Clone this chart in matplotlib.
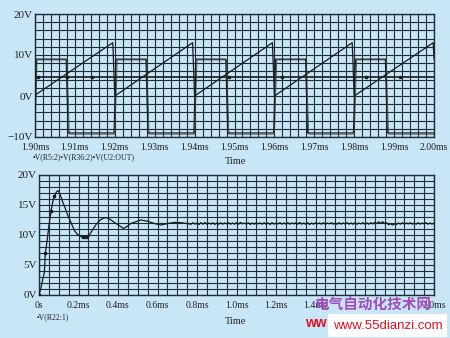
import numpy as np
import matplotlib
matplotlib.use("Agg")
import matplotlib.pyplot as plt
from matplotlib.patches import Rectangle

# ---- top panel data (ms, V) ----
saw_t = [1.9000, 1.9195, 1.9200, 1.9395, 1.9400, 1.9595, 1.9600, 1.9795, 1.9800, 1.9998, 2.0000]
saw_v = [0.2, 13.0, 0.0, 13.0, 0.0, 13.0, 0.0, 13.0, 0.0, 13.0, 9.0]

out_t = [1.9000, 1.9003, 1.9078, 1.9083, 1.9198, 1.9203, 1.9278, 1.9283, 1.9398, 1.9403,
         1.9478, 1.9483, 1.9598, 1.9603, 1.9678, 1.9683, 1.9798, 1.9803, 1.9878, 1.9883, 2.0000]
out_v = [-9.0, 9.0, 9.0, -9.0, -9.0, 9.0, 9.0, -9.0, -9.0, 9.0,
         9.0, -9.0, -9.0, 9.0, 9.0, -9.0, -9.0, 9.0, 9.0, -9.0, -9.0]

r36_t = [1.9000, 1.9005, 1.9080, 1.9086, 1.9200, 1.9206, 1.9280, 1.9286, 1.9400, 1.9406,
         1.9480, 1.9486, 1.9600, 1.9606, 1.9680, 1.9686, 1.9800, 1.9806, 1.9880, 1.9886, 2.0000]
r36_v = [-9.3, 8.8, 8.8, -9.3, -9.3, 8.8, 8.8, -9.3, -9.3, 8.8,
         8.8, -9.3, -9.3, 8.8, 8.8, -9.3, -9.3, 8.8, 8.8, -9.3, -9.3]

r5_t = [1.900, 2.000]
r5_v = [4.6, 4.6]
r5_mark_t = [1.9007, 1.9080, 1.9142, 1.9485, 1.9620, 1.9830, 1.9915]

top_xticks = [1.90, 1.91, 1.92, 1.93, 1.94, 1.95, 1.96, 1.97, 1.98, 1.99, 2.00]
top_xlabels = ["1.90ms", "1.91ms", "1.92ms", "1.93ms", "1.94ms", "1.95ms",
               "1.96ms", "1.97ms", "1.98ms", "1.99ms", "2.00ms"]
top_yticks = [-10, 0, 10, 20]
top_ylabels = ["\u221210V", "0V", "10V", "20V"]

# ---- bottom panel data (ms, V) ----
r22_t = [0.000, 0.010, 0.020, 0.027, 0.032, 0.040, 0.050, 0.061, 0.070, 0.078, 0.087, 0.095,
         0.103, 0.112, 0.120, 0.129, 0.142, 0.155, 0.168, 0.180, 0.195, 0.214, 0.225,
         0.240, 0.250, 0.257, 0.270, 0.290, 0.310, 0.325, 0.342, 0.360, 0.384, 0.405,
         0.427, 0.445, 0.464, 0.490, 0.515, 0.550, 0.585, 0.617, 0.650, 0.685, 0.720, 0.750, 0.770]
r22_v = [0.0, 1.2, 2.8, 3.7, 7.0, 8.8, 11.5, 14.0, 15.6, 16.5, 17.1, 17.4,
         17.1, 16.3, 15.5, 14.8, 13.6, 12.6, 11.6, 10.7, 10.1, 9.7, 9.6,
         9.6, 9.5, 10.1, 10.8, 11.8, 12.5, 12.8, 12.9, 12.6, 12.05, 11.6,
         11.1, 11.4, 11.9, 12.2, 12.5, 12.3, 11.9, 11.67, 11.9, 12.1, 12.05, 11.9, 11.8]

# ripple after settling, one value every 0.01 ms from 0.78 ms
ripple_v = [12.05, 11.8, 12.0, 11.75, 12.05, 11.8, 12.1, 11.8, 12.0, 11.8, 12.05, 11.75,
            12.0, 11.8, 12.05, 11.8, 12.0, 11.85, 12.05, 11.8, 12.0, 11.8, 12.05, 11.8,
            12.1, 11.85, 12.0, 11.8, 12.05, 11.75, 12.0, 11.8, 12.05, 11.85, 12.0, 11.8,
            12.05, 11.8, 12.0, 11.75, 12.05, 11.8, 12.0, 11.85, 12.05, 11.8, 12.0, 11.8,
            12.05, 11.8, 12.0, 11.85, 12.05, 11.8, 12.1, 11.8, 12.0, 11.8, 12.05, 11.75,
            12.0, 11.8, 12.05, 11.85, 12.0, 11.8, 12.05, 11.8, 12.0, 11.85, 12.05, 11.8,
            12.0, 11.8, 12.05, 11.8, 12.0, 11.85, 12.05, 11.8, 12.0, 11.8, 12.05, 11.8,
            12.0, 11.85, 12.05, 11.8, 12.0, 11.8, 12.05, 11.85, 12.1, 11.9, 12.2, 11.95,
            12.2, 11.9, 12.05, 11.7, 11.9, 11.65, 11.85, 11.75, 12.0, 11.8, 12.05, 11.8,
            12.0, 11.85, 12.05, 11.8, 12.0, 11.8, 12.05, 11.8, 12.0, 11.85, 12.05, 11.8,
            12.0, 11.8, 12.0]
ripple_t = np.linspace(0.78, 2.0, len(ripple_v))

# 1.6ms and 1.8ms sit under the site watermark in the original
bot_xticks = [0, 0.2, 0.4, 0.6, 0.8, 1.0, 1.2, 1.4, 2.0]
bot_xlabels = ["0s", "0.2ms", "0.4ms", "0.6ms", "0.8ms", "1.0ms", "1.2ms", "1.4ms", "2.0ms"]
bot_yticks = [0, 5, 10, 15, 20]
bot_ylabels = ["0V", "5V", "10V", "15V", "20V"]

bg = "#c9e6f7"
grid_c = "#1c2d3a"
trace_c = "#1a1a1a"
serif = "Liberation Serif"

fig = plt.figure(figsize=(4.5, 3.38), dpi=100)
fig.patch.set_facecolor(bg)


def style_axes(ax, xlim, ylim, xstep, ystep, xticks, xlabels, yticks, ylabels):
    ax.set_facecolor(bg)
    ax.set_xlim(*xlim)
    ax.set_ylim(*ylim)
    ax.set_xticks(xticks)
    ax.set_xticklabels(xlabels, fontfamily=serif, fontsize=7)
    ax.set_yticks(yticks)
    ax.set_yticklabels(ylabels, fontfamily=serif, fontsize=8)
    ax.set_xticks(np.arange(xlim[0], xlim[1] + xstep / 2, xstep), minor=True)
    ax.set_yticks(np.arange(ylim[0], ylim[1] + ystep / 2, ystep), minor=True)
    ax.tick_params(which="both", length=0, colors="#222222")
    ax.tick_params(axis="x", pad=4.5)
    ax.tick_params(axis="y", pad=1.5)
    ax.grid(which="both", color=grid_c, lw=0.8)
    for s in ax.spines.values():
        s.set_color(grid_c)
        s.set_linewidth(1.0)
    ax.set_axisbelow(True)


# top panel
ax1 = fig.add_axes([35 / 450, 1 - 137 / 338, 399 / 450, 123 / 338])
style_axes(ax1, (1.90, 2.00), (-10, 20), 0.002, 2, top_xticks, top_xlabels, top_yticks, top_ylabels)
ax1.plot(r5_t, r5_v, color=trace_c, lw=1.2, zorder=3)
ax1.plot(r5_mark_t, [4.6] * len(r5_mark_t), ls="none", marker="s", ms=2, color=trace_c, zorder=4)
ax1.plot(r36_t, r36_v, color="#444444", lw=0.6, zorder=3)
ax1.plot(out_t, out_v, color=trace_c, lw=0.8, zorder=3)
ax1.plot(saw_t, saw_v, color=trace_c, lw=0.9, zorder=3)

fig.text(33 / 450, 1 - 157 / 338, "\u2022V(R5:2)\u2022V(R36:2)\u2022V(U2:OUT)",
         fontfamily=serif, fontsize=5.6, color="#222222", va="center", ha="left")
fig.text(236 / 450, 1 - 162 / 338, "Time", fontfamily=serif, fontsize=7.5,
         color="#222222", va="center", ha="center")

# bottom panel
ax2 = fig.add_axes([39 / 450, 1 - 295 / 338, 395 / 450, 120 / 338])
style_axes(ax2, (0, 2.0), (0, 20), 0.05, 1, bot_xticks, bot_xlabels, bot_yticks, bot_ylabels)
ax2.plot(list(r22_t) + list(ripple_t), list(r22_v) + list(ripple_v), color=trace_c, lw=0.9, zorder=3)
ax2.plot([0.0, 0.032, 0.061, 0.078, 0.225, 0.240], [0.0, 7.0, 14.0, 16.5, 9.6, 9.6],
         ls="none", marker="s", ms=2, color=trace_c, zorder=4)

fig.text(37 / 450, 1 - 317 / 338, "\u2022V(R22:1)", fontfamily=serif, fontsize=5.6,
         color="#222222", va="center", ha="left")
fig.text(236 / 450, 1 - 322 / 338, "Time", fontfamily=serif, fontsize=7.5,
         color="#222222", va="center", ha="center")

# watermark
fig.text(305 / 450, 1 - 323 / 338, "ww", fontfamily="Liberation Sans", fontsize=10,
         fontweight="bold", color="#e01020", va="center", ha="left")
fig.text(373 / 450, 1 - 304 / 338, "电气自动化技术网", fontfamily=["Noto Sans CJK SC", "DejaVu Sans"],
         fontsize=10.5, fontweight="bold", color="#a04cc0", va="center", ha="center")
fig.patches.append(Rectangle((328 / 450, 1 - 337 / 338), 119 / 450, 23 / 338,
                             transform=fig.transFigure, facecolor="white", edgecolor="none", zorder=5))
fig.text(388 / 450, 1 - 326 / 338, "www.55dianzi.com", fontfamily="Liberation Sans", fontsize=9.5,
         color="#e01020", va="center", ha="center", zorder=6)

fig.savefig("out.png", dpi=100, facecolor=bg)
